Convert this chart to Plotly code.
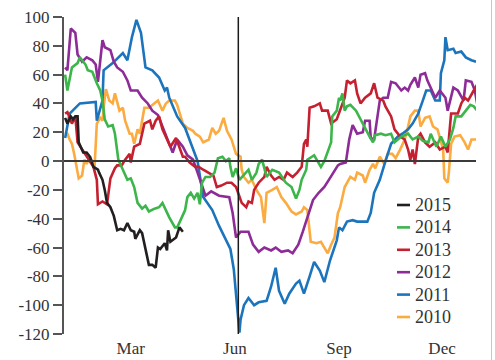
import pandas as pd
import plotly.graph_objects as go

# Day offsets from 1 Jan and index readings for each year
days_2015 = [1, 3, 6, 8, 10, 12, 13, 17, 20, 23, 26, 30, 31, 34, 36, 38, 41, 44, 47, 50,
             53, 56, 59, 62, 63, 67, 69, 72, 75, 78, 81, 83, 85, 89, 91, 92, 94, 99, 102, 105]
vals_2015 = [30, 26, 31, 29, 31, 31, 13, 6, 6, 3, -4, -6, -8, -13, -20, -29, -32, -38, -48, -47,
             -48, -43, -48, -49, -54, -48, -50, -60, -72, -72, -74, -60, -61, -57, -62, -48, -56, -53, -46, -49]

days_2014 = [1, 3, 7, 12, 14, 19, 21, 25, 29, 32, 34, 36, 39, 43, 45, 48, 52, 56, 59, 62,
             65, 69, 72, 75, 80, 84, 87, 90, 93, 98, 100, 103, 107, 109, 112, 115, 118, 120, 122, 125,
             129, 133, 136, 140, 143, 146, 147, 149, 152, 155, 161, 163, 166, 170, 172, 175, 179, 184, 190, 196,
             201, 203, 205, 208, 210, 214, 215, 219, 221, 224, 227, 230, 233, 236, 237, 241, 243, 244, 246, 248,
             250, 253, 258, 262, 266, 270, 273, 275, 280, 284, 289, 292, 298, 304, 308, 313, 317, 322, 324, 329,
             333, 337, 341, 344, 346, 351, 355, 359, 362, 365]
vals_2014 = [60, 49, 65, 68, 72, 67, 63, 62, 54, 49, 42, 29, 24, 25, 19, 1, -6, -13, -12, -18,
             -29, -33, -31, -35, -33, -32, -29, -34, -39, -46, -46, -41, -34, -25, -22, -26, -22, -30, -15, -11,
             -11, -8, 2, 3, 0, 2, -4, -11, -5, -13, -8, -6, -13, -8, -2, 1, -11, -6, -8, -15,
             -18, -22, -26, -20, -13, -6, 1, 3, 4, 0, -4, 0, 6, 13, 31, 35, 44, 42, 47, 35,
             38, 39, 35, 29, 22, 17, 13, 18, 19, 18, 19, 13, 17, 19, 15, 17, 14, 13, 19, 10,
             17, 10, 15, 23, 31, 31, 35, 39, 38, 35]

days_2013 = [1, 3, 7, 10, 12, 16, 20, 26, 29, 30, 34, 38, 41, 45, 47, 51, 54, 58, 59, 62,
             67, 71, 76, 78, 81, 84, 87, 90, 94, 99, 102, 105, 107, 111, 116, 119, 123, 128, 132, 135,
             139, 144, 148, 152, 155, 157, 161, 163, 166, 168, 172, 177, 179, 183, 186, 190, 194, 197, 202, 206,
             210, 212, 214, 215, 217, 221, 226, 228, 233, 236, 241, 242, 244, 248, 250, 253, 257, 259, 262, 266,
             271, 274, 277, 282, 284, 289, 292, 297, 301, 304, 306, 308, 310, 313, 315, 319, 323, 328, 332, 337,
             339, 342, 348, 351, 354, 357, 362, 365]
vals_2013 = [33, 34, 26, 31, 13, 8, 3, -4, -13, -30, -28, -30, -12, -5, -3, -3, 1, 5, -1, 10,
             12, 26, 28, 22, 28, 31, 22, 17, 10, 16, 10, 3, 3, -1, -4, -4, -6, -8, -10, -18,
             -17, -15, -15, -18, -25, -29, -32, -28, -29, -20, -15, -11, -4, -10, -13, -11, -13, -8, -11, -8,
             -4, 12, 15, 10, 37, 38, 40, 35, 35, 26, 29, 31, 35, 44, 56, 54, 56, 47, 40, 44,
             47, 54, 44, 42, 38, 31, 22, 17, 15, 8, 1, 8, -2, 17, 19, 13, 10, 13, 8, 10,
             6, 33, 33, 40, 44, 42, 49, 53]

days_2012 = [1, 3, 6, 10, 12, 16, 20, 25, 28, 30, 34, 36, 41, 44, 47, 52, 56, 59, 65, 69,
             74, 78, 83, 88, 91, 96, 100, 105, 109, 114, 118, 121, 125, 130, 137, 146, 149, 152, 156, 163,
             167, 172, 177, 183, 187, 192, 198, 202, 207, 211, 216, 220, 225, 230, 234, 242, 244, 249, 252, 255,
             259, 264, 266, 270, 271, 274, 279, 282, 286, 289, 293, 298, 301, 304, 306, 310, 313, 315, 319, 321,
             328, 332, 337, 339, 344, 348, 353, 355, 360, 363, 365]
vals_2012 = [65, 63, 92, 89, 74, 69, 72, 70, 67, 55, 84, 79, 77, 69, 65, 62, 56, 49, 49, 44,
             40, 35, 32, 22, 15, 6, 15, 10, 4, 1, -8, -15, -24, -21, -24, -25, -36, -53, -49, -49,
             -58, -63, -60, -62, -60, -63, -62, -64, -58, -49, -36, -27, -22, -18, -13, -3, -2, -1, 15, 25,
             19, 20, 28, 28, 16, 15, 42, 44, 44, 55, 54, 49, 51, 49, 53, 58, 51, 60, 61, 56,
             44, 49, 44, 35, 51, 49, 42, 56, 55, 49, 40]

days_2011 = [1, 5, 14, 28, 29, 34, 35, 43, 52, 56, 60, 64, 68, 72, 78, 84, 89, 91, 93, 100,
             107, 112, 118, 123, 131, 137, 143, 147, 150, 152, 153, 154, 155, 156, 159, 163, 168, 172, 179, 183,
             187, 190, 195, 199, 205, 208, 212, 217, 221, 226, 230, 235, 241, 243, 246, 250, 255, 259, 268, 271,
             274, 279, 282, 284, 289, 295, 299, 304, 308, 313, 317, 320, 324, 328, 332, 333, 336, 337, 339, 344,
             346, 351, 355, 360, 364]
vals_2011 = [16, 33, 40, 41, 28, 42, 63, 68, 75, 70, 86, 98, 89, 65, 63, 58, 49, 51, 44, 31,
             23, 12, 0, -25, -34, -45, -55, -61, -75, -92, -100, -114, -119, -110, -100, -95, -100, -98, -97, -87,
             -74, -90, -99, -92, -85, -83, -92, -80, -70, -76, -84, -69, -55, -46, -48, -42, -41, -42, -42, -36,
             -22, -13, -4, 0, 12, 17, 19, 22, 26, 33, 42, 49, 49, 42, 42, 61, 70, 86, 77, 78,
             75, 76, 72, 70, 69]

days_2010 = [1, 3, 5, 7, 9, 12, 13, 16, 18, 20, 23, 27, 28, 29, 32, 34, 36, 37, 40, 43,
             45, 49, 52, 54, 58, 60, 62, 65, 67, 71, 75, 80, 83, 87, 90, 93, 98, 100, 105, 109,
             114, 116, 120, 123, 128, 131, 134, 137, 139, 141, 144, 148, 152, 156, 157, 159, 163, 166, 170, 174,
             177, 178, 179, 184, 188, 192, 196, 201, 205, 210, 212, 215, 218, 223, 227, 230, 233, 236, 239, 242,
             244, 248, 250, 253, 257, 259, 264, 266, 270, 273, 275, 279, 283, 286, 290, 293, 297, 301, 304, 306,
             310, 313, 315, 319, 323, 326, 330, 333, 335, 336, 339, 340, 342, 345, 350, 354, 357, 360, 365]
vals_2010 = [20, 19, 15, 12, 5, -6, -12, -10, 1, -2, 3, -4, 12, 26, 30, 28, 44, 50, 42, 40,
             47, 35, 37, 28, 19, 19, 12, 22, 19, 37, 37, 40, 42, 35, 40, 42, 42, 39, 26, 23,
             21, 19, 17, 13, 15, 23, 19, 21, 26, 30, 21, 15, 5, 3, -6, -11, -15, -13, -20, -25,
             -43, -29, -22, -20, -18, -25, -29, -35, -37, -35, -32, -34, -56, -57, -56, -60, -64, -58, -53, -36,
             -32, -18, -15, -11, -13, -8, -10, -15, -6, -2, -5, 3, -2, 5, 5, 2, 8, 15, 24, 31,
             35, 35, 24, 30, 31, 24, 22, 14, 8, -12, -15, -8, 12, 17, 18, 13, 8, 15, 15]

years = ["2010", "2011", "2012", "2013", "2014", "2015"]
series = {
    "2010": (days_2010, vals_2010, "#fbab3f"),
    "2011": (days_2011, vals_2011, "#1c75bc"),
    "2012": (days_2012, vals_2012, "#8d2b97"),
    "2013": (days_2013, vals_2013, "#c4202f"),
    "2014": (days_2014, vals_2014, "#3cb54a"),
    "2015": (days_2015, vals_2015, "#231f20"),
}

y_ticks = [100, 80, 60, 40, 20, 0, -20, -40, -60, -80, -100, -120]
month_ticks = ["2015-03-01", "2015-06-01", "2015-09-01", "2015-12-01"]
month_labels = ["Mar", "Jun", "Sep", "Dec"]
marker_date = "2015-06-04"

base = pd.Timestamp("2015-01-01")
FONT = "Liberation Serif, Times New Roman, serif"
TEXT = "#333333"

# plot-area geometry in pixels, used to place the hand-built key
W, H = 495, 360
ML, MR, MT, MB = 64, 19, 17, 26
PW, PH = W - ML - MR, H - MT - MB


def px_x(p):
    return (p - ML) / PW


def px_y(p):
    return (H - MB - p) / PH


fig = go.Figure()
for yr in years:
    d, v, c = series[yr]
    fig.add_trace(go.Scatter(
        x=base + pd.to_timedelta(d, unit="D"), y=v, mode="lines", name=yr,
        line=dict(color=c, width=2.6), hoverinfo="skip", showlegend=False,
    ))

# zero line and the vertical date marker
fig.add_shape(type="line", xref="paper", yref="y", x0=0, x1=1, y0=0, y1=0,
              line=dict(color="#3a3a3a", width=2), layer="above")
fig.add_shape(type="line", xref="x", yref="paper", x0=marker_date, x1=marker_date, y0=0, y1=1,
              line=dict(color="#1a1a1a", width=1.5), layer="above")
# light frame line on the right edge
fig.add_shape(type="line", xref="paper", yref="paper", x0=px_x(491.5), x1=px_x(491.5),
              y0=px_y(362), y1=px_y(-2), line=dict(color="#c8c8c8", width=1))

# key: short coloured dash followed by the year, newest first
key_top, key_step = 205, 22.4
for i, yr in enumerate(reversed(years)):
    yc = key_top + i * key_step
    fig.add_shape(type="line", xref="paper", yref="paper",
                  x0=px_x(397), x1=px_x(410), y0=px_y(yc), y1=px_y(yc),
                  line=dict(color=series[yr][2], width=2.6))
    fig.add_annotation(xref="paper", yref="paper", x=px_x(413), y=px_y(yc),
                       xanchor="left", yanchor="middle", text=yr, showarrow=False,
                       font=dict(family=FONT, size=18, color=TEXT))

fig.update_layout(
    width=W, height=H,
    margin=dict(l=ML, r=MR, t=MT, b=MB),
    paper_bgcolor="white", plot_bgcolor="white",
    font=dict(family=FONT, size=17, color=TEXT),
    showlegend=False,
    xaxis=dict(
        range=["2015-01-01", "2015-12-31"],
        tickvals=month_ticks, ticktext=month_labels,
        showgrid=False, zeroline=False, showline=False, ticks="",
        ticklabelstandoff=2,
        tickfont=dict(family=FONT, size=17, color=TEXT), automargin=False,
    ),
    yaxis=dict(
        range=[-120, 100],
        tickvals=y_ticks, ticktext=[str(t) for t in y_ticks],
        showgrid=False, zeroline=False,
        showline=True, linecolor="#555555", linewidth=2,
        ticks="outside", ticklen=9, tickwidth=2, tickcolor="#555555",
        tickfont=dict(family=FONT, size=17, color=TEXT), automargin=False,
    ),
)

fig.write_html("out.html")
